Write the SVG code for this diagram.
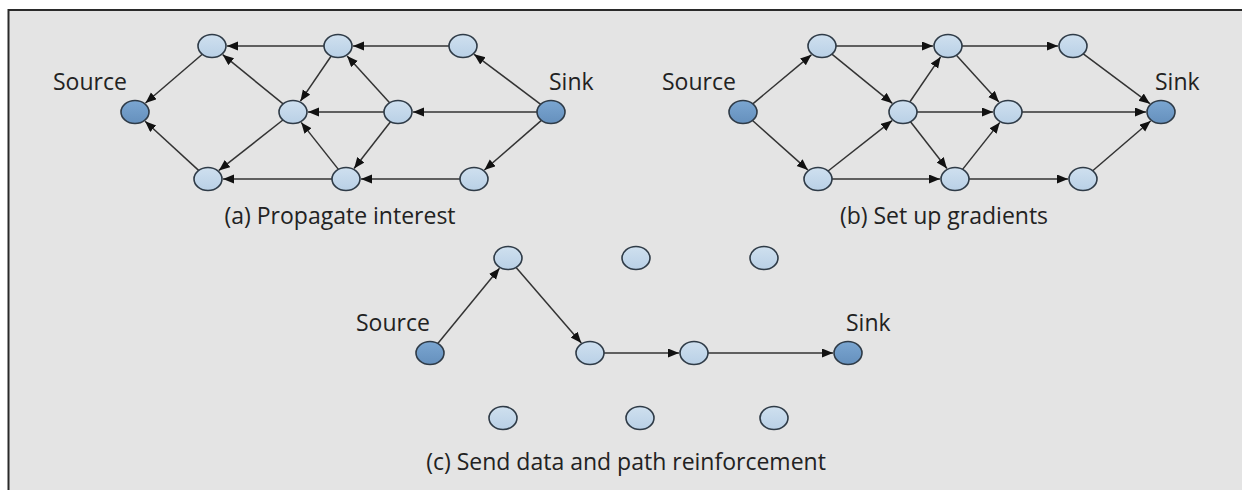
<svg xmlns="http://www.w3.org/2000/svg" width="1242" height="490" viewBox="0 0 1242 490">
<defs>
<marker id="ah" markerUnits="userSpaceOnUse" markerWidth="12" markerHeight="10" refX="11" refY="4.5" orient="auto" viewBox="0 0 12 10"><path d="M0,0 L11,4.5 L0,9 z" fill="#111"/></marker>
<linearGradient id="lg" x1="0" y1="0" x2="0" y2="1"><stop offset="0" stop-color="#cfe0ef"/><stop offset="1" stop-color="#b9d0e6"/></linearGradient>
<linearGradient id="dg" x1="0" y1="0" x2="0" y2="1"><stop offset="0" stop-color="#7ba6d1"/><stop offset="1" stop-color="#6590bd"/></linearGradient>
</defs>
<style>
.lt{fill:url(#lg);stroke:#2f3b47;stroke-width:1.6}
.dk{fill:url(#dg);stroke:#2f3b47;stroke-width:1.6}
.e{stroke:#333;stroke-width:1.5;fill:none;marker-end:url(#ah)}
.t{font-family:"Open Sans","Noto Sans",sans-serif;font-size:23px;fill:#222}
.c{font-family:"Open Sans","Noto Sans",sans-serif;font-size:23px;fill:#222;text-anchor:middle}
</style>
<rect x="0" y="0" width="1242" height="490" fill="#ffffff"/>
<rect x="8.5" y="10" width="1240" height="490" fill="#e4e4e4" stroke="#2a2a2a" stroke-width="2"/>

<g id="connectors">
<!-- panel a -->
<line class="e" x1="324" y1="46" x2="227" y2="46"/>
<line class="e" x1="449" y1="46" x2="353" y2="46"/>
<line class="e" x1="202.3" y1="54.3" x2="145.5" y2="103"/>
<line class="e" x1="198.6" y1="170.4" x2="145.1" y2="121.3"/>
<line class="e" x1="283.1" y1="103.9" x2="222.7" y2="54.7"/>
<line class="e" x1="331.2" y1="56" x2="300.4" y2="101.2"/>
<line class="e" x1="389.6" y1="102.8" x2="347.1" y2="56"/>
<line class="e" x1="384" y1="112" x2="308" y2="112"/>
<line class="e" x1="537" y1="112" x2="413" y2="112"/>
<line class="e" x1="540.7" y1="104.3" x2="474.1" y2="54.3"/>
<line class="e" x1="541.4" y1="120.4" x2="484.4" y2="170"/>
<line class="e" x1="282.9" y1="120" x2="218.9" y2="170.4"/>
<line class="e" x1="338.4" y1="169.4" x2="301.2" y2="122.4"/>
<line class="e" x1="390.5" y1="121.7" x2="354.1" y2="168.5"/>
<line class="e" x1="332" y1="179" x2="223" y2="179"/>
<line class="e" x1="460" y1="179" x2="361" y2="179"/>
<!-- panel b -->
<line class="e" x1="752.8" y1="103.8" x2="811.4" y2="54.8"/>
<line class="e" x1="752.5" y1="120.5" x2="807.8" y2="169.9"/>
<line class="e" x1="836" y1="46" x2="933" y2="46"/>
<line class="e" x1="962" y1="46" x2="1058" y2="46"/>
<line class="e" x1="1083.3" y1="53.8" x2="1149.9" y2="103.7"/>
<line class="e" x1="831.9" y1="54.1" x2="892.3" y2="103.3"/>
<line class="e" x1="828.1" y1="171" x2="892.1" y2="120.6"/>
<line class="e" x1="909.8" y1="102" x2="940.6" y2="56.9"/>
<line class="e" x1="917" y1="112" x2="993" y2="112"/>
<line class="e" x1="910.5" y1="121.7" x2="946.9" y2="168.5"/>
<line class="e" x1="956.4" y1="55.2" x2="998.9" y2="102"/>
<line class="e" x1="962.6" y1="169.4" x2="999.8" y2="122.4"/>
<line class="e" x1="1022" y1="112" x2="1146" y2="112"/>
<line class="e" x1="832" y1="179" x2="940" y2="179"/>
<line class="e" x1="969" y1="179" x2="1068" y2="179"/>
<line class="e" x1="1092.7" y1="170.7" x2="1150.6" y2="121"/>
<!-- panel c -->
<line class="e" x1="437.8" y1="343.5" x2="499.5" y2="268.3"/>
<line class="e" x1="516.1" y1="267.4" x2="581.3" y2="342.9"/>
<line class="e" x1="604" y1="353" x2="679" y2="353"/>
<line class="e" x1="708" y1="353" x2="833" y2="353"/>
</g>

<!-- panel a nodes -->
<g id="a-source"><ellipse class="dk" cx="135" cy="112" rx="14" ry="11.5"/><text class="t" x="53" y="90">Source</text></g>
<g id="a-t1"><ellipse class="lt" cx="212" cy="46" rx="14" ry="11.5"/></g>
<g id="a-t2"><ellipse class="lt" cx="338" cy="46" rx="14" ry="11.5"/></g>
<g id="a-t3"><ellipse class="lt" cx="463" cy="46" rx="14" ry="11.5"/></g>
<g id="a-m1"><ellipse class="lt" cx="293" cy="112" rx="14" ry="11.5"/></g>
<g id="a-m2"><ellipse class="lt" cx="398" cy="112" rx="14" ry="11.5"/></g>
<g id="a-sink"><ellipse class="dk" cx="551" cy="112" rx="14" ry="11.5"/><text class="t" x="549" y="90">Sink</text></g>
<g id="a-b1"><ellipse class="lt" cx="208" cy="179" rx="14" ry="11.5"/></g>
<g id="a-b2"><ellipse class="lt" cx="346" cy="179" rx="14" ry="11.5"/></g>
<g id="a-b3"><ellipse class="lt" cx="474" cy="179" rx="14" ry="11.5"/></g>
<g id="a-caption"><text class="c" x="340" y="224">(a) Propagate interest</text></g>

<!-- panel b nodes -->
<g id="b-source"><ellipse class="dk" cx="743" cy="112" rx="14" ry="11.5"/><text class="t" x="662" y="90">Source</text></g>
<g id="b-t1"><ellipse class="lt" cx="822" cy="46" rx="14" ry="11.5"/></g>
<g id="b-t2"><ellipse class="lt" cx="948" cy="46" rx="14" ry="11.5"/></g>
<g id="b-t3"><ellipse class="lt" cx="1073" cy="46" rx="14" ry="11.5"/></g>
<g id="b-m1"><ellipse class="lt" cx="903" cy="112" rx="14" ry="11.5"/></g>
<g id="b-m2"><ellipse class="lt" cx="1008" cy="112" rx="14" ry="11.5"/></g>
<g id="b-sink"><ellipse class="dk" cx="1161" cy="112" rx="14" ry="11.5"/><text class="t" x="1155" y="90">Sink</text></g>
<g id="b-b1"><ellipse class="lt" cx="818" cy="179" rx="14" ry="11.5"/></g>
<g id="b-b2"><ellipse class="lt" cx="955" cy="179" rx="14" ry="11.5"/></g>
<g id="b-b3"><ellipse class="lt" cx="1083" cy="179" rx="14" ry="11.5"/></g>
<g id="b-caption"><text class="c" x="944" y="224">(b) Set up gradients</text></g>

<!-- panel c nodes -->
<g id="c-source"><ellipse class="dk" cx="430" cy="353" rx="14" ry="11.5"/><text class="t" x="356" y="331">Source</text></g>
<g id="c-t1"><ellipse class="lt" cx="508" cy="258" rx="14" ry="11.5"/></g>
<g id="c-t2"><ellipse class="lt" cx="636" cy="258" rx="14" ry="11.5"/></g>
<g id="c-t3"><ellipse class="lt" cx="764" cy="258" rx="14" ry="11.5"/></g>
<g id="c-m1"><ellipse class="lt" cx="590" cy="353" rx="14" ry="11.5"/></g>
<g id="c-m2"><ellipse class="lt" cx="694" cy="353" rx="14" ry="11.5"/></g>
<g id="c-sink"><ellipse class="dk" cx="848" cy="353" rx="14" ry="11.5"/><text class="t" x="846" y="331">Sink</text></g>
<g id="c-b1"><ellipse class="lt" cx="503" cy="418" rx="14" ry="11.5"/></g>
<g id="c-b2"><ellipse class="lt" cx="640" cy="418" rx="14" ry="11.5"/></g>
<g id="c-b3"><ellipse class="lt" cx="774" cy="418" rx="14" ry="11.5"/></g>
<g id="c-caption"><text class="c" x="626" y="470">(c) Send data and path reinforcement</text></g>
</svg>
